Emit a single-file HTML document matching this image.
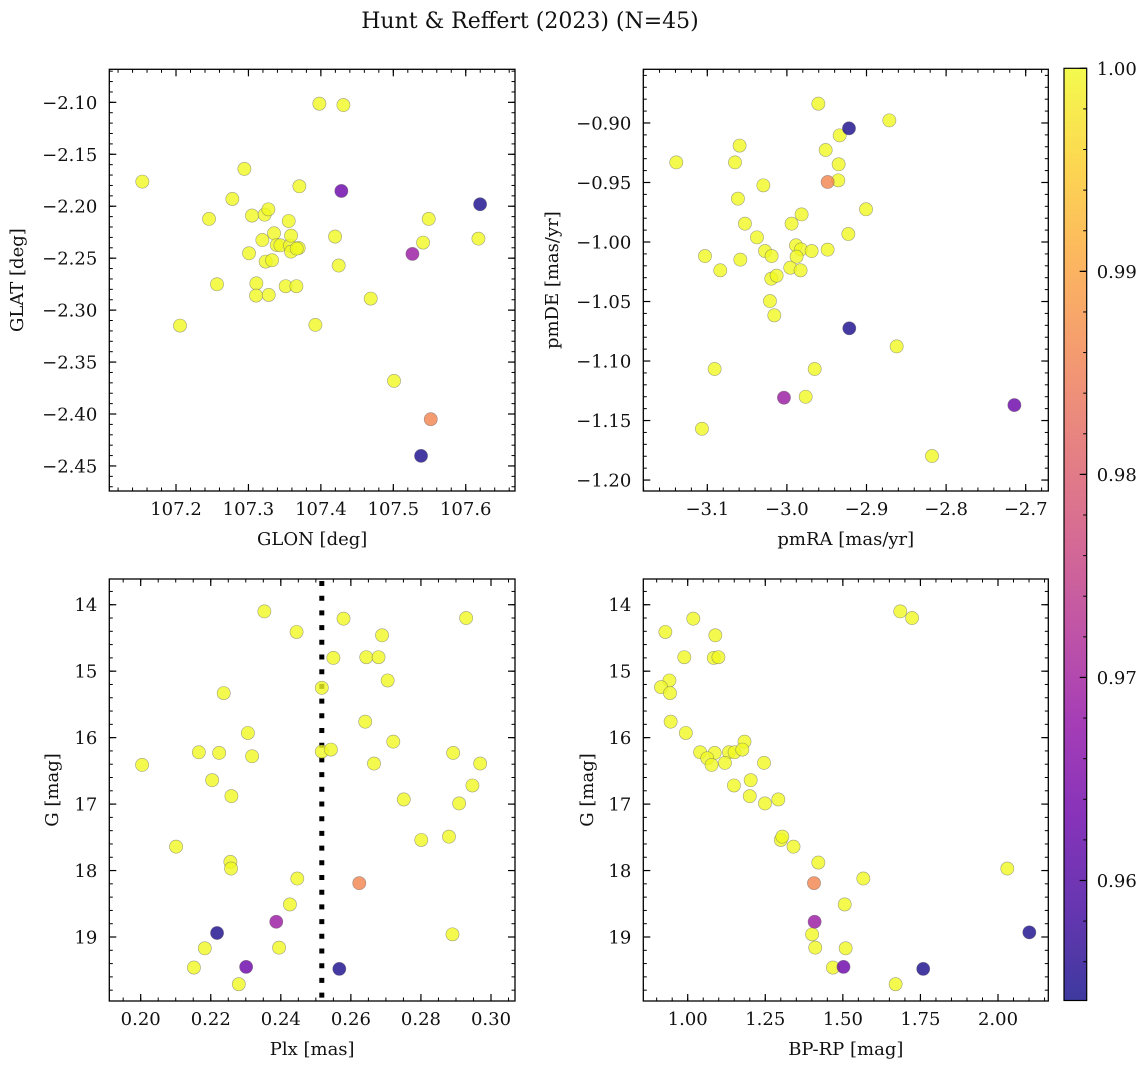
<!DOCTYPE html>
<html><head><meta charset="utf-8"><style>
html,body{margin:0;padding:0;background:#fff;}
svg{display:block;font-family:"DejaVu Serif","Liberation Serif",serif;}
</style></head><body>
<svg id="chart" width="1148" height="1068" viewBox="0 0 1148 1068" xmlns="http://www.w3.org/2000/svg">
<text x="530" y="28" font-size="22" text-anchor="middle" fill="#111">Hunt &amp; Reffert (2023) (N=45)</text>
</svg>
<script>
// ---- data ----
const tlGlon=[107.1535,107.2055,107.2456,107.2566,107.2778,107.2944,107.3008,107.3049,107.3109,107.3105,107.3192,107.3224,107.3275,107.3238,107.3280,107.3326,107.3353,107.3390,107.3441,107.3514,107.3556,107.3574,107.3588,107.3588,107.3662,107.3694,107.3703,107.3924,107.3979,107.4196,107.4246,107.4311,107.4688,107.5010,107.5411,107.5489,107.6175,107.3666,107.6198,107.5264,107.5383,107.5517,107.4283];
const tlGlat=[-2.1763,-2.3149,-2.2122,-2.2751,-2.1930,-2.1641,-2.2453,-2.2090,-2.2742,-2.2860,-2.2325,-2.2081,-2.2030,-2.2533,-2.2854,-2.2520,-2.2260,-2.2373,-2.2376,-2.2770,-2.2142,-2.2379,-2.2283,-2.2437,-2.2770,-2.2402,-2.1808,-2.3142,-2.1013,-2.2292,-2.2571,-2.1026,-2.2889,-2.3681,-2.2350,-2.2122,-2.2312,-2.2408,-2.1981,-2.2459,-2.4403,-2.4050,-2.1853];
const tlProb=[1,1,1,1,1,1,1,1,1,1,1,1,1,1,1,1,1,1,1,1,1,1,1,1,1,1,1,1,1,1,1,1,1,1,1,1,1,1,0.955,0.969,0.955,0.986,0.963];

const trPmra=[-3.1390,-3.1067,-3.1029,-3.0908,-3.0837,-3.0652,-3.0594,-3.0615,-3.0585,-3.0527,-3.0376,-3.0296,-3.0275,-3.0213,-3.0192,-3.0196,-3.0129,-3.0158,-2.9958,-2.9941,-2.9886,-2.9823,-2.9878,-2.9828,-2.9815,-2.9764,-2.9689,-2.9651,-2.9605,-2.9513,-2.9488,-2.9350,-2.9354,-2.9337,-2.9228,-2.9006,-2.8713,-2.8621,-2.8177,-2.9220,-2.9216,-2.7142,-3.0037,-2.9488];
const trPmde=[-0.9331,-1.1569,-1.0118,-1.1067,-1.0238,-0.9331,-0.9190,-0.9636,-1.0148,-0.9846,-0.9961,-0.9524,-1.0076,-1.0496,-1.0118,-1.0308,-1.0283,-1.0616,-1.0216,-0.9846,-1.0028,-1.0062,-1.0123,-1.0238,-0.9768,-1.1300,-1.0076,-1.1067,-0.8838,-0.9227,-1.0064,-0.9347,-0.9482,-0.9104,-0.9933,-0.9725,-0.8978,-1.0877,-1.1798,-0.9045,-1.0725,-1.1370,-1.1308,-0.9496];
const trProb=[1,1,1,1,1,1,1,1,1,1,1,1,1,1,1,1,1,1,1,1,1,1,1,1,1,1,1,1,1,1,1,1,1,1,1,1,1,1,1,0.955,0.955,0.963,0.969,0.986];

const blPlx=[0.2353,0.2445,0.2579,0.2929,0.2689,0.2550,0.2644,0.2679,0.2705,0.2517,0.2237,0.2641,0.2306,0.2721,0.2166,0.2224,0.2318,0.2517,0.2543,0.2892,0.2004,0.2666,0.2969,0.2204,0.2947,0.2259,0.2751,0.2909,0.2801,0.2880,0.2101,0.2256,0.2258,0.2447,0.2426,0.2890,0.2183,0.2395,0.2152,0.2280,0.2624,0.2387,0.2218,0.2301,0.2567];
const blG=[14.10,14.41,14.21,14.20,14.46,14.80,14.79,14.79,15.14,15.25,15.33,15.76,15.93,16.06,16.22,16.23,16.28,16.21,16.18,16.23,16.41,16.39,16.39,16.64,16.72,16.88,16.93,16.99,17.54,17.49,17.64,17.87,17.97,18.12,18.51,18.96,19.17,19.16,19.46,19.71,18.19,18.77,18.94,19.45,19.48];
const blProb=[1,1,1,1,1,1,1,1,1,1,1,1,1,1,1,1,1,1,1,1,1,1,1,1,1,1,1,1,1,1,1,1,1,1,1,1,1,1,1,1,0.986,0.969,0.955,0.963,0.955];

const brBprp=[1.685,1.723,1.018,0.928,1.089,0.989,1.084,1.099,0.941,0.914,0.943,0.945,0.994,1.183,1.040,1.087,1.133,1.151,1.176,1.063,1.077,1.120,1.246,1.203,1.149,1.200,1.292,1.249,1.300,1.305,1.341,1.421,2.030,1.566,1.506,1.401,1.509,1.411,1.468,1.670,1.407,1.409,2.101,1.502,1.759];
const brG=[14.10,14.20,14.21,14.41,14.46,14.79,14.80,14.79,15.14,15.24,15.33,15.76,15.93,16.06,16.22,16.23,16.22,16.22,16.18,16.31,16.41,16.38,16.38,16.64,16.72,16.88,16.93,16.99,17.54,17.49,17.64,17.88,17.97,18.12,18.51,18.96,19.17,19.16,19.46,19.71,18.19,18.77,18.93,19.45,19.48];
const brProb=[1,1,1,1,1,1,1,1,1,1,1,1,1,1,1,1,1,1,1,1,1,1,1,1,1,1,1,1,1,1,1,1,1,1,1,1,1,1,1,1,0.986,0.969,0.955,0.963,0.955];

const plxCut=[0.2517];
const cbTicks=[1.00,0.99,0.98,0.97,0.96];

// ---- helpers ----
const NS="http://www.w3.org/2000/svg";
const svg=document.getElementById('chart');
function mk(tag,attrs,parent){const e=document.createElementNS(NS,tag);for(const k in attrs)e.setAttribute(k,attrs[k]);(parent||svg).appendChild(e);return e;}
const VMIN=0.95409,VMAX=1.0;
const stops=["#0d0887","#41049d","#6a00a8","#8f0da4","#b12a90","#cc4778","#e16462","#f2844b","#fca636","#fcce25","#f0f921"];
function hex(h){return [parseInt(h.slice(1,3),16),parseInt(h.slice(3,5),16),parseInt(h.slice(5,7),16)];}
function plasma(t){t=Math.max(0,Math.min(1,t));const f=t*10;const i=Math.min(9,Math.floor(f));const u=f-i;const a=hex(stops[i]),b=hex(stops[i+1]);
 const c=a.map((v,k)=>Math.round(v+(b[k]-v)*u));return `rgb(${c[0]},${c[1]},${c[2]})`;}
function fmt(v,d){return (v<0?"\u2212":"")+Math.abs(v).toFixed(d);}

const L=109.3,R=515,L2=643.3,R2=1048.3,T1=69.3,B1=491,T2=579,B2=1001;
const FS=18;

function panel(p){
 const g=mk('g',{});
 
 
 const sx=v=>p.L+(v-p.xmin)/(p.xmax-p.xmin)*(p.R-p.L);
 const sy=v=>p.T+(v-p.ymax)/(p.ymin-p.ymax)*(p.B-p.T);
 p.sx=sx;p.sy=sy;
 const eps=1e-9;
 for(let v=Math.ceil(p.xmin/p.xminor-eps)*p.xminor;v<=p.xmax+eps;v+=p.xminor){const x=sx(v);
  mk('line',{x1:x,x2:x,y1:p.B,y2:p.B-3.5,stroke:'#000','stroke-width':1},g);
  mk('line',{x1:x,x2:x,y1:p.T,y2:p.T+3.5,stroke:'#000','stroke-width':1},g);}
 const ylo=Math.min(p.ymin,p.ymax),yhi=Math.max(p.ymin,p.ymax);
 for(let v=Math.ceil(ylo/p.yminor-eps)*p.yminor;v<=yhi+eps;v+=p.yminor){const y=sy(v);
  mk('line',{x1:p.L,x2:p.L+3.5,y1:y,y2:y,stroke:'#000','stroke-width':1},g);
  mk('line',{x1:p.R,x2:p.R-3.5,y1:y,y2:y,stroke:'#000','stroke-width':1},g);}
 p.xticks.forEach(v=>{const x=sx(v);
  mk('line',{x1:x,x2:x,y1:p.B,y2:p.B-7,stroke:'#000','stroke-width':1.2},g);
  mk('line',{x1:x,x2:x,y1:p.T,y2:p.T+7,stroke:'#000','stroke-width':1.2},g);
  const t=mk('text',{x:x,y:p.B+24,'font-size':FS,'text-anchor':'middle',fill:'#111'},g);
  
  
  t.textContent=fmt(v,p.xd);});
 p.yticks.forEach(v=>{const y=sy(v);
  mk('line',{x1:p.L,x2:p.L+7,y1:y,y2:y,stroke:'#000','stroke-width':1.2},g);
  mk('line',{x1:p.R,x2:p.R-7,y1:y,y2:y,stroke:'#000','stroke-width':1.2},g);
  const t=mk('text',{x:p.L-12,y:y+6.5,'font-size':FS,'text-anchor':'end',fill:'#111'},g);
  
  
  t.textContent=fmt(v,p.yd);});
 const xl=mk('text',{x:(p.L+p.R)/2,y:p.B+54,'font-size':FS,'text-anchor':'middle',fill:'#111'},g);
 
 
 xl.textContent=p.xlabel;
 const yx=p.ylx,yy=(p.T+p.B)/2;
 const yl=mk('text',{x:yx,y:yy,'font-size':FS,'text-anchor':'middle',fill:'#111',transform:`rotate(-90 ${yx} ${yy})`},g);
 
 
 yl.textContent=p.ylabel;
 const cid='clip'+p.name;
 const cp=mk('clipPath',{id:cid},g);mk('rect',{x:p.L,y:p.T,width:p.R-p.L,height:p.B-p.T},cp);
 const pg=mk('g',{'clip-path':`url(#${cid})`},g);
 if(p.extra)p.extra(pg);
 for(let i=0;i<p.xs.length;i++){
  const c=mk('circle',{cx:sx(p.xs[i]),cy:sy(p.ys[i]),r:6.6,fill:plasma((p.cs[i]-VMIN)/(VMAX-VMIN)),'fill-opacity':0.8,stroke:'#666','stroke-opacity':0.6,'stroke-width':0.6},pg);
  
  
 }
 const fr=mk('rect',{x:p.L,y:p.T,width:p.R-p.L,height:p.B-p.T,fill:'none',stroke:'#000','stroke-width':1.3},g);
 
 
}

panel({name:'glon-glat-panel',L:L,R:R,T:T1,B:B1,xmin:107.1079,xmax:107.668,ymin:-2.4741,ymax:-2.0682,
 xticks:[107.2,107.3,107.4,107.5,107.6],xd:1,yticks:[-2.10,-2.15,-2.20,-2.25,-2.30,-2.35,-2.40,-2.45],yd:2,
 xminor:0.02,yminor:0.01,xlabel:'GLON [deg]',ylabel:'GLAT [deg]',ylx:23,xs:tlGlon,ys:tlGlat,cs:tlProb});
panel({name:'proper-motion-panel',L:L2,R:R2,T:T1,B:B1,xmin:-3.1804,xmax:-2.6716,ymin:-1.2092,ymax:-0.8549,
 xticks:[-3.1,-3.0,-2.9,-2.8,-2.7],xd:1,yticks:[-0.90,-0.95,-1.00,-1.05,-1.10,-1.15,-1.20],yd:2,
 xminor:0.02,yminor:0.01,xlabel:'pmRA [mas/yr]',ylabel:'pmDE [mas/yr]',ylx:558,xs:trPmra,ys:trPmde,cs:trProb});
panel({name:'parallax-panel',L:L,R:R,T:T2,B:B2,xmin:0.19104,xmax:0.30685,ymin:19.963,ymax:13.613,
 xticks:[0.20,0.22,0.24,0.26,0.28,0.30],xd:2,yticks:[14,15,16,17,18,19],yd:0,
 xminor:0.005,yminor:0.2,xlabel:'Plx [mas]',ylabel:'G [mag]',ylx:58,xs:blPlx,ys:blG,cs:blProb,
 extra:function(pg){const x=this.sx(plxCut[0]);const l=mk('line',{x1:x,x2:x,y1:T2+2,y2:B2,stroke:'#000','stroke-width':5,'stroke-dasharray':'5 9.7'},pg);
  
  }});
panel({name:'cmd-panel',L:L2,R:R2,T:T2,B:B2,xmin:0.8569,xmax:2.1621,ymin:19.963,ymax:13.613,
 xticks:[1.00,1.25,1.50,1.75,2.00],xd:2,yticks:[14,15,16,17,18,19],yd:0,
 xminor:0.05,yminor:0.2,xlabel:'BP-RP [mag]',ylabel:'G [mag]',ylx:593,xs:brBprp,ys:brG,cs:brProb});

// colorbar
(function(){
 const cx=1064,cw=22.7,ct=68.3,cb=1000.5;
 const g=mk('g',{});
 
 
 const defs=mk('defs',{},g);
 const lg=mk('linearGradient',{id:'cbg',x1:0,y1:1,x2:0,y2:0},defs);
 for(let i=0;i<=20;i++){mk('stop',{offset:i/20,'stop-color':plasma(i/20),'stop-opacity':0.8},lg);}
 mk('rect',{x:cx,y:ct,width:cw,height:cb-ct,fill:'url(#cbg)'},g);
 const sc=v=>ct+(VMAX-v)/(VMAX-VMIN)*(cb-ct);
 for(let v=0.956;v<1.0+1e-9;v+=0.002){const y=sc(v);mk('line',{x1:cx+cw,x2:cx+cw-3.5,y1:y,y2:y,stroke:'#000','stroke-width':1},g);}
 cbTicks.forEach(v=>{const y=sc(v);mk('line',{x1:cx+cw,x2:cx+cw-7,y1:y,y2:y,stroke:'#000','stroke-width':1.2},g);
  const t=mk('text',{x:cx+cw+10,y:y+6.5,'font-size':FS,fill:'#111'},g);
  
  
  t.textContent=v.toFixed(2);});
 mk('rect',{x:cx,y:ct,width:cw,height:cb-ct,fill:'none',stroke:'#000','stroke-width':1.2},g);
})();
</script>
</body></html>
